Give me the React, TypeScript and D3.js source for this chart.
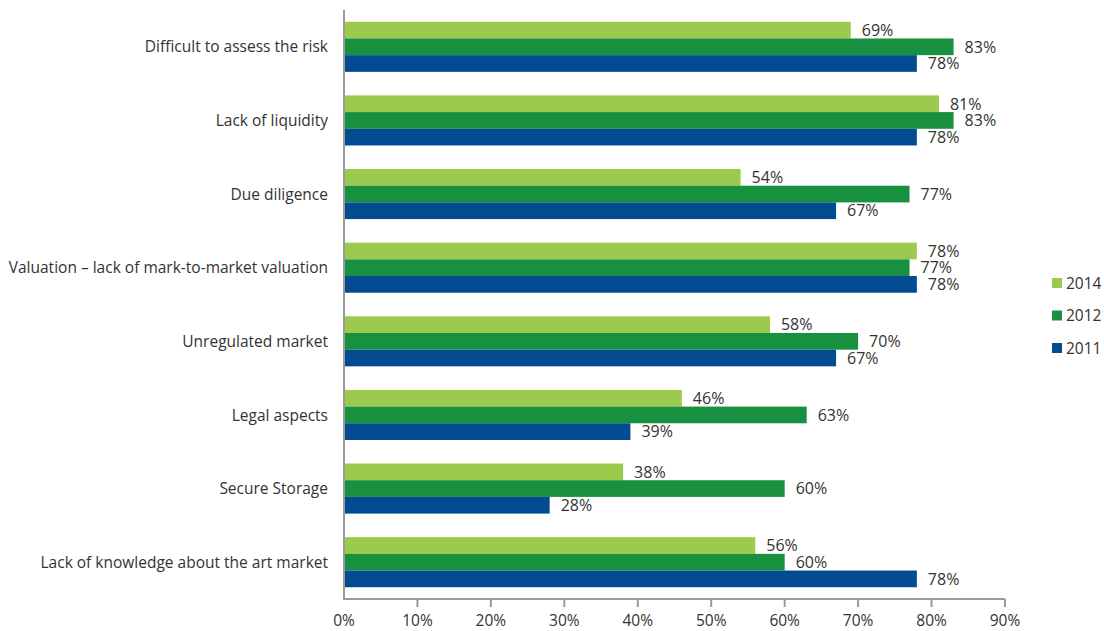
import React, { useEffect, useRef } from 'react';
import * as d3 from 'd3';

const categories = [
  'Difficult to assess the risk',
  'Lack of liquidity',
  'Due diligence',
  'Valuation – lack of mark-to-market valuation',
  'Unregulated market',
  'Legal aspects',
  'Secure Storage',
  'Lack of knowledge about the art market',
];
const seriesNames = ['2014', '2012', '2011'];
const values2014 = [69, 81, 54, 78, 58, 46, 38, 56];
const values2012 = [83, 83, 77, 77, 70, 63, 60, 60];
const values2011 = [78, 78, 67, 78, 67, 39, 28, 78];
const xTicks = [0, 10, 20, 30, 40, 50, 60, 70, 80, 90];
const colors = ['#9bca4c', '#17913f', '#034b91'];

export default function App() {
  const svgRef = useRef<SVGSVGElement>(null);

  useEffect(() => {
    if (!svgRef.current) return;
    const svg = d3.select(svgRef.current);
    svg.selectAll('*').remove();

    const width = 1104;
    const height = 631;
    const left = 344;
    const top = 10;
    const bottom = 599;
    const font = '"Open Sans", "Noto Sans", sans-serif';
    const textColor = '#333';

    const series = [values2014, values2012, values2011];

    const x = d3.scaleLinear().domain([0, 90]).range([left, 1005]);
    const y = d3.scaleBand<string>()
      .domain(categories)
      .range([top, bottom])
      .paddingInner(0.32)
      .paddingOuter(0.16);
    const y1 = d3.scaleBand<string>().domain(seriesNames).range([0, y.bandwidth()]);

    svg.attr('width', width).attr('height', height);

    // bars + value labels
    categories.forEach((cat, i) => {
      const g = svg.append('g').attr('transform', `translate(0,${y(cat)})`);
      seriesNames.forEach((s, j) => {
        const v = series[j][i];
        g.append('rect')
          .attr('x', x(0))
          .attr('y', y1(s)!)
          .attr('width', x(v) - x(0))
          .attr('height', y1.bandwidth())
          .attr('fill', colors[j]);
        g.append('text')
          .attr('x', x(v) + 11)
          .attr('y', y1(s)! + y1.bandwidth() / 2)
          .attr('dy', '0.36em')
          .attr('font-family', font)
          .attr('font-size', 16)
          .attr('fill', textColor)
          .text(`${v}%`);
      });
      svg.append('text')
        .attr('x', 328)
        .attr('y', y(cat)! + y.bandwidth() / 2)
        .attr('dy', '0.36em')
        .attr('text-anchor', 'end')
        .attr('font-family', font)
        .attr('font-size', 15.5)
        .attr('fill', textColor)
        .text(cat);
    });

    // axes
    svg.append('line')
      .attr('x1', left).attr('x2', left)
      .attr('y1', top).attr('y2', bottom)
      .attr('stroke', '#9a9a9a').attr('stroke-width', 2);
    svg.append('line')
      .attr('x1', left - 1).attr('x2', x(90))
      .attr('y1', bottom).attr('y2', bottom)
      .attr('stroke', '#9a9a9a').attr('stroke-width', 2);

    xTicks.forEach((t) => {
      if (t > 0) {
        svg.append('line')
          .attr('x1', x(t)).attr('x2', x(t))
          .attr('y1', bottom).attr('y2', bottom + 8)
          .attr('stroke', '#9a9a9a').attr('stroke-width', 2);
      }
      svg.append('text')
        .attr('x', x(t))
        .attr('y', 620)
        .attr('dy', '0.36em')
        .attr('text-anchor', 'middle')
        .attr('font-family', font)
        .attr('font-size', 15.5)
        .attr('fill', textColor)
        .text(`${t}%`);
    });

    // legend
    seriesNames.forEach((s, j) => {
      const ly = 283 + j * 32.5;
      svg.append('rect')
        .attr('x', 1052)
        .attr('y', ly - 5)
        .attr('width', 10)
        .attr('height', 10)
        .attr('fill', colors[j]);
      svg.append('text')
        .attr('x', 1066)
        .attr('y', ly)
        .attr('dy', '0.36em')
        .attr('font-family', font)
        .attr('font-size', 15.5)
        .attr('fill', textColor)
        .text(s);
    });
  }, []);

  return <svg ref={svgRef} style={{ position: 'absolute', left: 0, top: 0 }} />;
}
